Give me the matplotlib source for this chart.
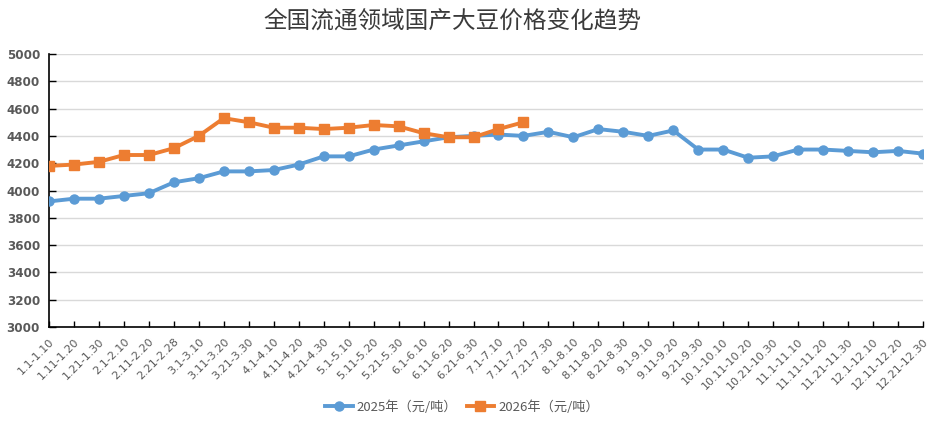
import matplotlib
matplotlib.use("Agg")
import matplotlib.pyplot as plt
from matplotlib.transforms import ScaledTranslation

plt.rcParams['font.family'] = ['Noto Sans CJK SC', 'DejaVu Sans']

categories = ["1.1-1.10", "1.11-1.20", "1.21-1.30", "2.1-2.10", "2.11-2.20", "2.21-2.28",
              "3.1-3.10", "3.11-3.20", "3.21-3.30", "4.1-4.10", "4.11-4.20", "4.21-4.30",
              "5.1-5.10", "5.11-5.20", "5.21-5.30", "6.1-6.10", "6.11-6.20", "6.21-6.30",
              "7.1-7.10", "7.11-7.20", "7.21-7.30", "8.1-8.10", "8.11-8.20", "8.21-8.30",
              "9.1-9.10", "9.11-9.20", "9.21-9.30", "10.1-10.10", "10.11-10.20", "10.21-10.30",
              "11.1-11.10", "11.11-11.20", "11.21-11.30", "12.1-12.10", "12.11-12.20", "12.21-12.30"]

values_2025 = [3920, 3940, 3940, 3960, 3980, 4060, 4090, 4140, 4140, 4150, 4190, 4250,
               4250, 4300, 4330, 4360, 4390, 4400, 4410, 4400, 4430, 4390, 4450, 4430,
               4400, 4440, 4300, 4300, 4240, 4250, 4300, 4300, 4290, 4280, 4290, 4270]

values_2026 = [4180, 4190, 4210, 4260, 4260, 4310, 4400, 4530, 4500, 4460, 4460, 4450,
               4460, 4480, 4470, 4420, 4390, 4390, 4450, 4500]

yticks = [3000, 3200, 3400, 3600, 3800, 4000, 4200, 4400, 4600, 4800, 5000]

title = "全国流通领域国产大豆价格变化趋势"
label_2025 = "2025年（元/吨）"
label_2026 = "2026年（元/吨）"

blue = "#5B9BD5"
orange = "#ED7D31"
txt = "#595959"

fig = plt.figure(figsize=(9.51, 4.22), dpi=100)
ax = fig.add_axes([49/951, 1-327/422, (923-49)/951, (327-54)/422])

x25 = list(range(len(values_2025)))
x26 = list(range(len(values_2026)))
ax.plot(x25, values_2025, color=blue, lw=2.8, marker='o', markersize=6.5,
        label=label_2025, zorder=3)
ax.plot(x26, values_2026, color=orange, lw=2.8, marker='s', markersize=6.5,
        label=label_2026, zorder=4)

ax.set_xlim(0, len(categories) - 1)
ax.set_ylim(3000, 5000)
ax.set_yticks(yticks)
ax.set_yticklabels([str(v) for v in yticks], fontsize=8.6, fontweight='bold',
                   color=txt, family=['DejaVu Sans'])
ax.set_xticks(range(len(categories)))
ax.set_xticklabels(categories, rotation=45, ha='right', va='top',
                   rotation_mode='anchor', fontsize=8, color=txt,
                   family=['DejaVu Sans'])
shift = ScaledTranslation(5/100, 0, fig.dpi_scale_trans)
for lab in ax.get_xticklabels():
    lab.set_transform(lab.get_transform() + shift)
ax.tick_params(axis='x', direction='in', length=4, width=1, color='black', pad=7)
ax.tick_params(axis='y', direction='in', length=5, width=1, color='black', pad=6.5)
ax.grid(axis='y', color='#D9D9D9', lw=1)
ax.set_axisbelow(True)
for s in ['top', 'right']:
    ax.spines[s].set_visible(False)
for s in ['left', 'bottom']:
    ax.spines[s].set_color('black')
    ax.spines[s].set_linewidth(1.2)

fig.text(452/951, 1-21/422, title, ha='center', va='center', fontsize=17,
         color='#3a3a3a', fontweight='medium')

leg = fig.legend(loc='center', bbox_to_anchor=(462/951, 1-407/422), ncol=2,
                 frameon=False, fontsize=9.5, handlelength=2.1, columnspacing=0.7,
                 handletextpad=0.3)
for t in leg.get_texts():
    t.set_color(txt)

fig.savefig("out.png", dpi=100)
